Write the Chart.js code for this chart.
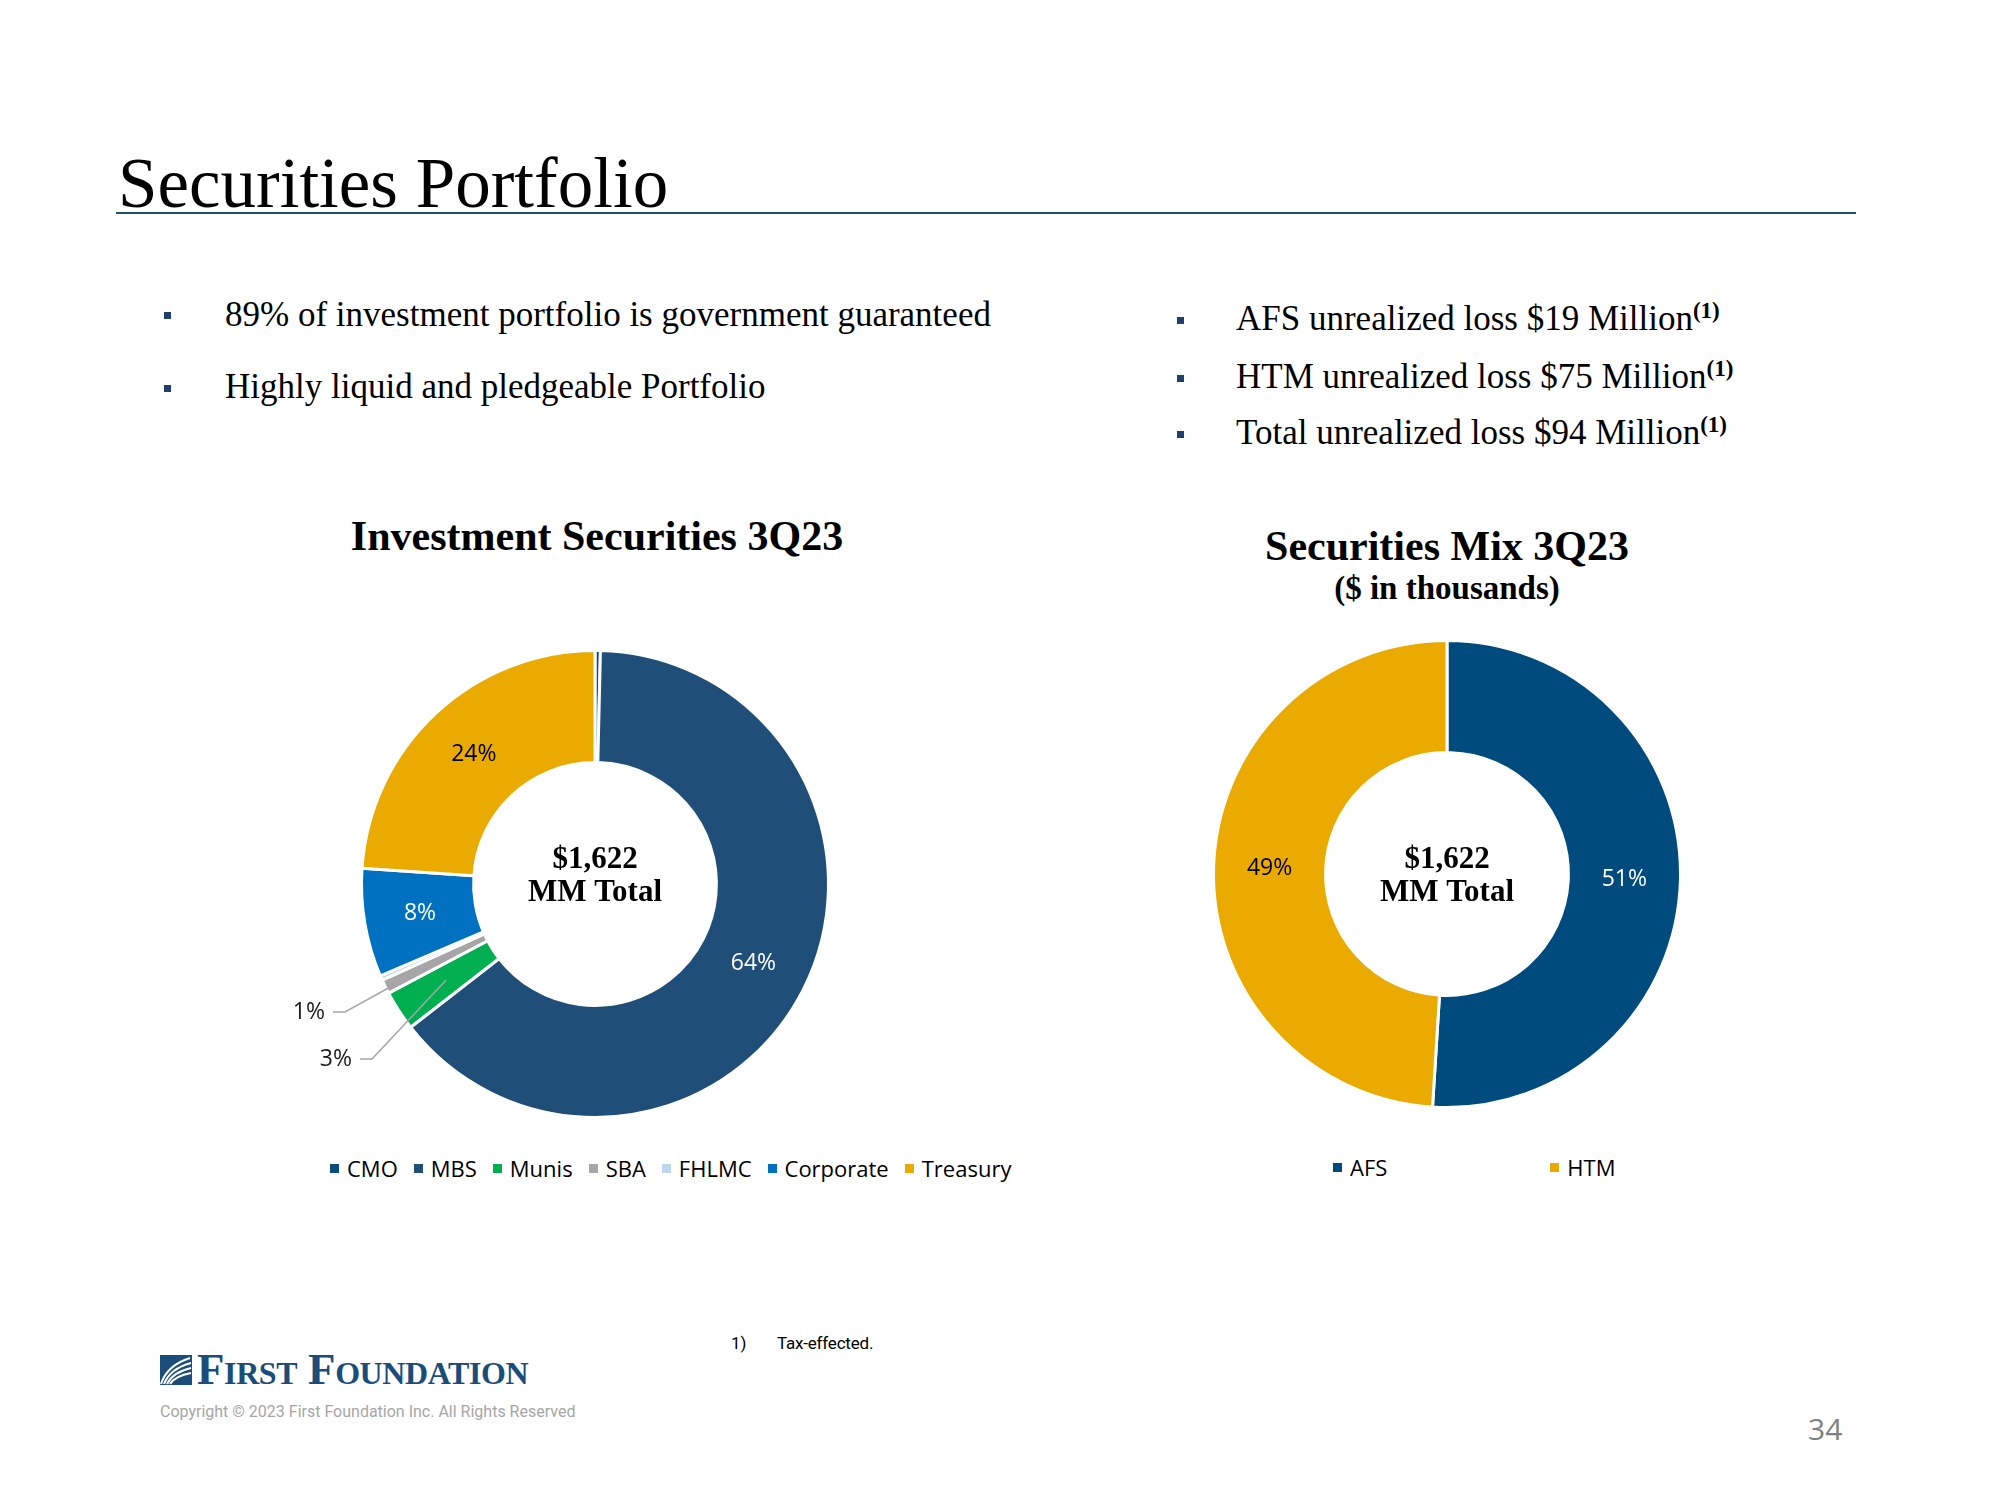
<!DOCTYPE html>
<html>
<head>
<meta charset="utf-8">
<title>Securities Portfolio</title>
<script src="https://cdn.jsdelivr.net/npm/chart.js@4.4.0/dist/chart.umd.min.js"></script>
<style>
    body { margin: 0; background: #fff; }
    .slide { position: relative; width: 2000px; height: 1500px; overflow: hidden;
             font-family: "Liberation Serif", serif; color: #000; }
    .abs { position: absolute; white-space: nowrap; line-height: 1; }
    .rule { position: absolute; left: 116px; top: 212px; width: 1740px; height: 2px; background: #1F4E79; }
    .sq { position: absolute; width: 7px; height: 7px; background: #1F3F6E; }
    .bullet { font-size: 35px; }
    .bullet sup { font-size: 23px; font-weight: bold; vertical-align: 12px; line-height: 0; }
    .ctitle { font-weight: bold; font-size: 42px; text-align: center; width: 1000px; }
    .legend { position: absolute; display: flex; align-items: center; font-family: "Open Sans", sans-serif;
              font-size: 22px; line-height: 22px; color: #000; white-space: nowrap; }
    .legend .item { display: flex; align-items: center; }
    .legend i { display: inline-block; width: 9px; height: 9px; margin-right: 8px; }
    canvas { position: absolute; }
    .sans { font-family: "Open Sans", sans-serif; }
</style>
</head>
<body>
<div class="slide">
    <!-- Header -->
    <div class="abs" style="left:118px; top:148px; font-size:71px;">Securities Portfolio</div>
    <div class="rule"></div>

    <!-- Bullets -->
    <div class="sq" style="left:164px; top:312px;"></div>
    <div class="abs bullet" style="left:225px; top:297px;">89% of investment portfolio is government guaranteed</div>
    <div class="sq" style="left:164px; top:385px;"></div>
    <div class="abs bullet" style="left:225px; top:369px;">Highly liquid and pledgeable Portfolio</div>

    <div class="sq" style="left:1177px; top:317px;"></div>
    <div class="abs bullet" style="left:1236px; top:301px;">AFS unrealized loss $19 Million<sup>(1)</sup></div>
    <div class="sq" style="left:1177px; top:375px;"></div>
    <div class="abs bullet" style="left:1236px; top:359px;">HTM unrealized loss $75 Million<sup>(1)</sup></div>
    <div class="sq" style="left:1177px; top:431px;"></div>
    <div class="abs bullet" style="left:1236px; top:415px;">Total unrealized loss $94 Million<sup>(1)</sup></div>

    <!-- Chart titles -->
    <div class="abs ctitle" style="left:97px; top:515px;">Investment Securities 3Q23</div>
    <div class="abs ctitle" style="left:947px; top:525px;">Securities Mix 3Q23</div>
    <div class="abs ctitle" style="left:947px; top:572px; font-size:33px;">($ in thousands)</div>

    <canvas id="inv-chart" width="700" height="500" style="left:245px; top:634px;"></canvas>
    <canvas id="mix-chart" width="700" height="500" style="left:1097px; top:624px;"></canvas>

    <div class="legend" id="inv-legend" style="left:330px; top:1157px;"></div>
    <div class="legend" id="mix-legend" style="left:1333px; top:1156px;"></div>

    <!-- Footer -->
    <div class="abs" style="left:731px; top:1335px; font-family:Roboto, sans-serif; font-size:17px;">1)</div>
    <div class="abs" style="left:777px; top:1335px; font-family:Roboto, sans-serif; font-size:17px; letter-spacing:-0.2px;">Tax-effected.</div>

    <svg class="abs" style="left:160px; top:1355px;" width="32" height="30" viewBox="0 0 32 30">
        <rect width="32" height="30" fill="#1B4D7A"/>
        <g stroke="#fff" stroke-width="2" fill="none">
            <path d="M1 29 C5 17 14 8 30 3"/>
            <path d="M4 29 C8 19 16 12 31 8"/>
            <path d="M7 29 C11 21 18 16 31 13"/>
            <path d="M10 29 C14 23 20 20 31 18"/>
        </g>
    </svg>
    <div class="abs" style="left:197px; top:1347px; font-size:45px; font-weight:bold; font-variant:small-caps; color:#1B4D7A; letter-spacing:-0.4px;">First Foundation</div>
    <div class="abs" style="left:160px; top:1404px; font-family:Roboto, sans-serif; font-size:16px; color:#A6A6A6;">Copyright © 2023 First Foundation Inc. All Rights Reserved</div>
    <div class="abs sans" style="left:1808px; top:1414px; font-size:30px; color:#7F7F7F;">34</div>
</div>

<script>
// Investment Securities 3Q23 ($MM)
const invLabels = ['CMO', 'MBS', 'Munis', 'SBA', 'FHLMC', 'Corporate', 'Treasury'];
const invValues = [6, 1040, 45, 16, 5, 122, 388];
const invColors = ['#0D4A80', '#1F4E79', '#00B050', '#A6A6A6', '#BDD7EE', '#0070C0', '#EAAA00'];
const invTextColors = ['#fff', '#fff', '#000', '#000', '#000', '#fff', '#000'];

// Securities Mix 3Q23
const mixLabels = ['AFS', 'HTM'];
const mixValues = [827, 795];
const mixColors = ['#004B7D', '#EAAA00'];
const mixTextColors = ['#fff', '#000'];

const centerLines = ['$1,622', 'MM Total'];

// percentage labels, callouts with leader lines, and the total in the hole
const donutText = {
    id: 'donutText',
    afterDatasetsDraw(chart, args, opts) {
        const ctx = chart.ctx;
        const meta = chart.getDatasetMeta(0);
        const data = chart.data.datasets[0].data;
        const labels = chart.data.labels;
        const total = data.reduce((a, b) => a + b, 0);

        ctx.save();
        ctx.font = '23px "Open Sans"';
        ctx.textBaseline = 'middle';
        meta.data.forEach((arc, i) => {
            const pct = Math.round(data[i] / total * 100);
            if (pct < 1) return;
            const p = arc.tooltipPosition();
            const call = opts.callouts && opts.callouts[labels[i]];
            if (call) {
                const ex = arc.x + call.dx, ey = arc.y + call.dy;
                ctx.strokeStyle = '#A6A6A6';
                ctx.lineWidth = 1.5;
                ctx.beginPath();
                ctx.moveTo(p.x, p.y);
                ctx.lineTo(ex, ey);
                ctx.lineTo(ex - 12, ey);
                ctx.stroke();
                ctx.fillStyle = '#1a1a1a';
                ctx.textAlign = 'right';
                ctx.fillText(pct + '%', ex - 20, ey);
            } else {
                ctx.fillStyle = opts.colors[i];
                ctx.textAlign = 'center';
                ctx.fillText(pct + '%', p.x, p.y);
            }
        });

        const c = meta.data[0];
        ctx.font = 'bold 31px "Liberation Serif"';
        ctx.fillStyle = '#000';
        ctx.textAlign = 'center';
        opts.center.forEach((t, k) => ctx.fillText(t, c.x, c.y + opts.centerY + k * 33));
        ctx.restore();
    }
};

function makeDonut(id, labels, values, colors, textOpts) {
    return new Chart(document.getElementById(id), {
        type: 'doughnut',
        data: {
            labels: labels,
            datasets: [{
                data: values,
                backgroundColor: colors,
                borderColor: '#fff',
                borderWidth: 3
            }]
        },
        options: {
            responsive: false,
            animation: false,
            cutout: '52%',
            layout: { padding: { left: 115, right: 115, top: 15, bottom: 15 } },
            plugins: {
                legend: { display: false },
                tooltip: { enabled: false },
                donutText: textOpts
            }
        },
        plugins: [donutText]
    });
}

function buildLegend(el, labels, colors, gap) {
    el.innerHTML = labels.map((l, i) =>
        `<span class="item" style="margin-right:${i < labels.length - 1 ? gap : 0}px"><i style="background:${colors[i]}"></i>${l}</span>`
    ).join('');
}

makeDonut('inv-chart', invLabels, invValues, invColors, {
    colors: invTextColors,
    callouts: { SBA: { dx: -250, dy: 128 }, Munis: { dx: -223, dy: 175 } },
    center: centerLines,
    centerY: -24
});
makeDonut('mix-chart', mixLabels, mixValues, mixColors, {
    colors: mixTextColors,
    center: centerLines,
    centerY: -14
});

buildLegend(document.getElementById('inv-legend'), invLabels, invColors, 16);
buildLegend(document.getElementById('mix-legend'), mixLabels, mixColors, 163);
</script>
</body>
</html>
